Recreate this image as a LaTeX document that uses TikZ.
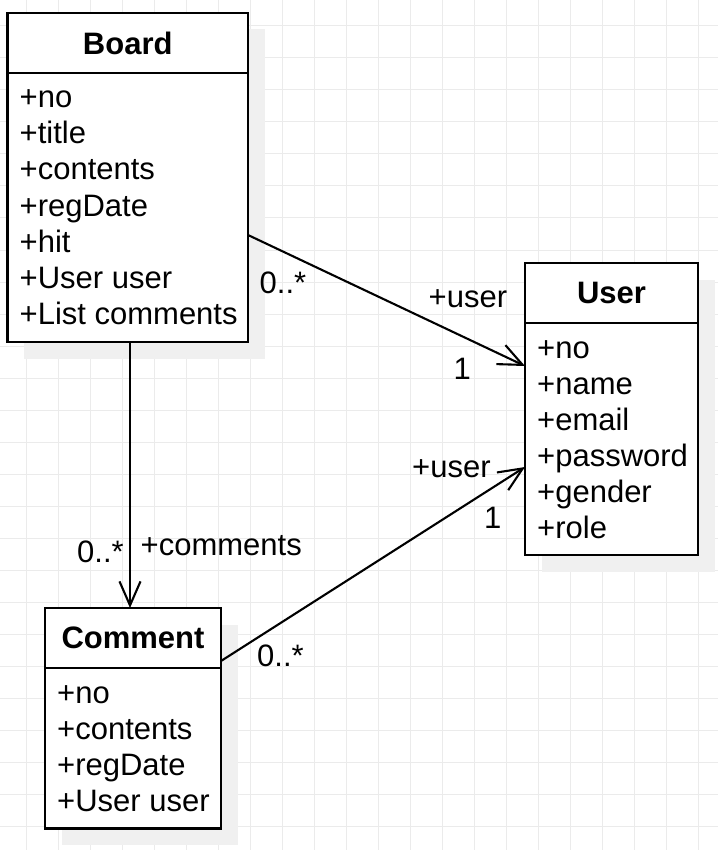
\documentclass[tikz,border=0pt]{standalone}
\usepackage{fontspec}
\setmainfont{Liberation Sans}
\usetikzlibrary{arrows.meta, calc, shadows}

\begin{document}
\begin{tikzpicture}[x=1pt, y=-1pt,
    classbox/.style={draw, line width=2.3pt, fill=white, inner sep=0pt,
      outer sep=0pt, anchor=north west,
      drop shadow={shadow xshift=16.5pt, shadow yshift=-16.5pt,
        fill=black!6, opacity=1}},
    head/.style={font=\fontsize{31}{36}\selectfont\bfseries, inner sep=0pt},
    attr/.style={font=\fontsize{31}{36}\selectfont, inner sep=0pt,
      anchor=base west},
    lbl/.style={attr},
    divider/.style={line width=2.3pt},
    assoc/.style={line width=2.1pt,
      -{Straight Barb[length=24pt, width=21pt]}},
    gridline/.style={black!8, line width=1pt},
]
% Canvas and grid
\fill[white] (0,0) rectangle (718,850);
\useasboundingbox (0,0) rectangle (718,850);
\foreach \k in {0,...,21} {
  \draw[gridline] (26+32*\k,0) -- (26+32*\k,850);
}
\foreach \k in {0,...,25} {
  \draw[gridline] (0,26+32*\k) -- (718,26+32*\k);
}

% Class boxes
\node[classbox, minimum width=240.5pt, minimum height=329pt]
  (board) at (7.5,13) {};
\node[classbox, minimum width=173pt, minimum height=292pt]
  (user) at (525,263) {};
\node[classbox, minimum width=176pt, minimum height=220.5pt]
  (comment) at (45,608) {};

% Headers
\foreach \cls/\title in {board/Board, user/User, comment/Comment} {
  \draw[divider] ([yshift=-60pt]\cls.north west)
    -- ([yshift=-60pt]\cls.north east);
  \node[head] (\cls-head) at ([yshift=-30pt]\cls.north) {\title};
}

% Attributes
\foreach \i/\txt in {
  0/+no, 1/+title, 2/+contents, 3/+regDate,
  4/+hit, 5/+User user, 6/+List comments} {
  \node[attr] (board-\i)
    at ([xshift=12pt, yshift=-95pt-\i*36pt]board.north west) {\txt};
}
\foreach \i/\txt in {
  0/+no, 1/+name, 2/+email, 3/+password,
  4/+gender, 5/+role} {
  \node[attr] (user-\i)
    at ([xshift=12pt, yshift=-95pt-\i*36pt]user.north west) {\txt};
}
\foreach \i/\txt in {
  0/+no, 1/+contents, 2/+regDate, 3/+User user} {
  \node[attr] (comment-\i)
    at ([xshift=12pt, yshift=-95pt-\i*36pt]comment.north west) {\txt};
}

% Connector ends
\coordinate (bu-s) at ([yshift=-222pt]board.north east);
\coordinate (bu-e) at ([yshift=-103pt]user.north west);
\coordinate (bc-s) at ([xshift=122.5pt]board.south west);
\coordinate (bc-e) at ([xshift=85pt]comment.north west);
\coordinate (cu-s) at ([yshift=-53pt]comment.north east);
\coordinate (cu-e) at ([yshift=-204pt]user.north west);

% Associations
\draw[assoc] (bu-s) -- (bu-e);
\draw[assoc] (bc-s) -- (bc-e);
\draw[assoc] (cu-s) -- (cu-e);

% Multiplicities and roles
\node[lbl] (bu-m1) at (259.5,293) {0..*};
\node[lbl] (bu-r) at (428.5,307.5) {+user};
\node[lbl] (bu-m2) at (453.5,379) {1};
\node[lbl] (bc-m1) at (77,562.5) {0..*};
\node[lbl] (bc-r) at (140.5,555) {+comments};
\node[lbl] (cu-m1) at (257,666) {0..*};
\node[lbl] (cu-r) at (412,477.5) {+user};
\node[lbl] (cu-m2) at (484,528.5) {1};

\end{tikzpicture}
\end{document}
